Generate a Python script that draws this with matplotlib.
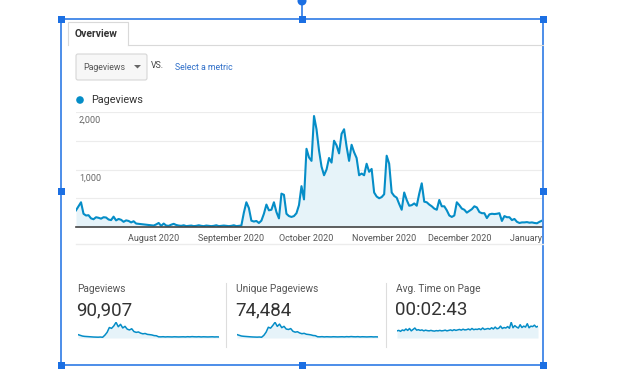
import numpy as np
import pandas as pd
import matplotlib
matplotlib.use("Agg")
import matplotlib.pyplot as plt
import matplotlib.dates as mdates
from matplotlib.patches import Rectangle, Circle, Polygon, FancyBboxPatch

plt.rcParams['font.family'] = ['Roboto', 'DejaVu Sans']

W, H = 617, 378

# daily pageviews, starting 1 July 2020
pageviews = [
    290, 360, 430, 230, 200, 205, 150, 135, 170, 160,
    145, 170, 165, 130, 120, 180, 115, 140, 125, 90,
    115, 105, 80, 100, 60, 55, 50, 45, 40, 35,
    30, 25, 45, 70, 20, 60, 25, 20, 40, 55,
    35, 25, 20, 30, 15, 20, 25, 15, 20, 30,
    20, 15, 25, 20, 15, 20, 30, 15, 20, 25,
    20, 15, 20, 30, 15, 20, 25, 250, 430, 330,
    110, 95, 105, 70, 110, 230, 390, 290, 300, 430,
    260, 150, 580, 560, 230, 190, 175, 190, 240, 380,
    710, 480, 1360, 1210, 1150, 1930, 1700, 1330, 1050, 900,
    1000, 1200, 1120, 1500, 1420, 1280, 1620, 1700, 1400, 1150,
    1430, 1300, 1200, 900, 930, 900, 1100, 960, 1010, 600,
    530, 500, 520, 570, 1240, 1100, 600, 540, 510, 400,
    300, 600, 470, 370, 380, 410, 370, 580, 760, 440,
    430, 390, 360, 320, 300, 470, 360, 360, 290, 200,
    175, 200, 430, 380, 320, 300, 250, 280, 310, 360,
    340, 260, 240, 240, 155, 220, 230, 225, 230, 240,
    105, 190, 170, 170, 120, 140, 90, 70, 80, 80,
    85, 75, 80, 70, 65, 90, 110,
]
dates = pd.date_range('2020-07-01', periods=len(pageviews), freq='D')
month_ticks = pd.date_range('2020-08-01', '2021-01-01', freq='MS')
y_labels = ['1,000', '2,000']
y_label_vals = [1000, 2000]

card_titles = ['Pageviews', 'Unique Pageviews', 'Avg. Time on Page']
card_values = ['90,907', '74,484', '00:02:43']

spark_pageviews = [
    420, 330, 240, 200, 180, 160, 140, 120, 110, 100, 120, 90,
    350, 700, 1300, 1200, 1500, 1950, 1400, 1700, 1250, 1450, 1100, 1000,
    1150, 800, 700, 750, 600, 520, 560, 450, 420, 380, 300, 280,
    150, 140, 160, 130, 150, 140, 130, 150, 140, 130, 140, 150,
    130, 160, 140, 170, 150, 140, 160, 130, 150, 140, 130, 140, 150, 130, 140, 130,
]
spark_unique = [
    380, 300, 220, 190, 170, 150, 130, 115, 105, 95, 110, 85,
    300, 650, 1200, 1100, 1400, 1750, 1300, 1550, 1150, 1300, 1000, 950,
    1050, 750, 650, 700, 560, 480, 520, 420, 390, 350, 280, 260,
    140, 130, 150, 120, 140, 130, 120, 140, 130, 120, 130, 140,
    120, 150, 130, 160, 140, 130, 150, 120, 140, 130, 120, 130, 140, 120, 130, 120,
]
spark_time = [
    150, 160, 140, 170, 155, 190, 160, 200, 150, 180, 210, 165, 175, 160, 170, 150,
    165, 155, 150, 160, 150, 145, 155, 150, 160, 150, 155, 165, 150, 160, 170, 155,
    175, 160, 170, 180, 165, 185, 170, 175, 190, 170, 200, 175, 185, 180, 195, 175,
    210, 180, 190, 200, 185, 215, 190, 230, 195, 205, 250, 200, 220, 210, 240, 205,
    330, 215, 260, 230, 210, 280, 220, 250, 230, 300, 215, 250, 240, 270, 230, 245,
]

LINE = '#058dc7'
FILL = '#e6f3f9'
FRAME = '#1b6fe3'


def box(x0, y0, x1, y1):
    return [x0 / W, 1 - y1 / H, (x1 - x0) / W, (y1 - y0) / H]


fig = plt.figure(figsize=(W / 100, H / 100), dpi=100)
fig.patch.set_facecolor('white')

# main chart
ax = fig.add_axes(box(76, 112, 542, 227))
ax.fill_between(dates, pageviews, color=FILL, lw=0)
ax.plot(dates, pageviews, color=LINE, lw=1.5)
ax.set_xlim(dates[0], dates[-1])
ax.set_ylim(0, 2000)
ax.set_yticks([0, 500, 1000, 1500, 2000])
ax.yaxis.grid(True, color='#ececec', lw=0.8)
ax.set_axisbelow(True)
ax.tick_params(axis='y', length=0, labelleft=False)
ax.set_xticks(month_ticks)
ax.xaxis.set_major_formatter(mdates.DateFormatter('%B %Y'))
ax.tick_params(axis='x', length=0, pad=5, labelsize=6.5, labelcolor='#555555')
for s in ['top', 'right', 'left']:
    ax.spines[s].set_visible(False)
ax.spines['bottom'].set_color('#444444')
ax.spines['bottom'].set_linewidth(1.2)
for v, t in zip(y_label_vals, y_labels):
    ax.annotate(t, xy=(0, v), xycoords=ax.get_yaxis_transform(),
                xytext=(2, -3), textcoords='offset points',
                ha='left', va='top', fontsize=6.5, color='#666666')

# scorecards with sparklines
card_x = [77, 236, 396]
spark_series = [spark_pageviews, spark_unique, spark_time]
for cx, ser in zip(card_x, spark_series):
    sx = fig.add_axes(box(cx + 1, 322, cx + 142, 338))
    idx = np.arange(len(ser))
    sx.fill_between(idx, ser, color=FILL, lw=0)
    sx.plot(idx, ser, color=LINE, lw=1.1)
    sx.set_xlim(0, len(ser) - 1)
    sx.set_ylim(0, max(ser) * 1.02)
    sx.axis('off')

# overlay in pixel coordinates
ov = fig.add_axes([0, 0, 1, 1], zorder=10)
ov.set_xlim(0, W)
ov.set_ylim(H, 0)
ov.axis('off')

# mask the chart beyond the frame
ov.add_patch(Rectangle((543, 95), 80, 160, fc='white', ec='none'))

# tab
ov.plot([68, 68, 128, 128], [45, 22, 22, 45], color='#d9d9d9', lw=0.8)
ov.plot([128, 543], [45, 45], color='#d9d9d9', lw=0.8)
ov.text(75, 34, 'Overview', fontsize=7.5, fontweight='bold', color='#333333',
        va='center', ha='left')

# metric selector
ov.add_patch(FancyBboxPatch((76, 54), 71, 26, boxstyle='round,pad=0,rounding_size=2',
                            fc='#f7f7f7', ec='#d6d6d6', lw=0.8))
ov.text(83, 67, 'Pageviews', fontsize=6.3, color='#555555', va='center', ha='left')
ov.add_patch(Polygon([[134, 65], [141, 65], [137.5, 68.5]], closed=True,
                     fc='#666666', ec='none'))
ov.text(151, 66, 'VS.', fontsize=6.3, color='#444444', va='center', ha='left')
ov.text(175, 67, 'Select a metric', fontsize=6.3, color='#2f6fc9', va='center', ha='left')

# legend
ov.add_patch(Circle((80, 100), 3.8, fc=LINE, ec='none'))
ov.text(91, 100, 'Pageviews', fontsize=7.8, color='#333333', va='center', ha='left')

# lower rule under the date labels
ov.plot([76, 543], [244, 244], color='#ececec', lw=1.0)

# card text and dividers
for cx, title, val in zip(card_x, card_titles, card_values):
    ov.text(cx, 289, title, fontsize=7.3, color='#555555', va='center', ha='left')
    ov.text(cx - 1, 310, val, fontsize=13.5, color='#333333', va='center', ha='left')
for dx in [226, 386]:
    ov.plot([dx, dx], [283, 347], color='#dddddd', lw=0.8)

# selection frame with handles
ov.add_patch(Rectangle((61, 19), 482, 346, fc='none', ec=FRAME, lw=1.1))
ov.plot([302, 302], [2, 19], color=FRAME, lw=1.1)
ov.add_patch(Circle((302, 1), 4.5, fc=FRAME, ec='none'))
for hx, hy in [(61, 19), (302, 19), (543, 19), (61, 191), (543, 191),
               (61, 365), (302, 365), (543, 365)]:
    ov.add_patch(Rectangle((hx - 3.5, hy - 3.5), 7, 7, fc=FRAME, ec='none'))

fig.savefig('out.png', dpi=100, facecolor='white')
